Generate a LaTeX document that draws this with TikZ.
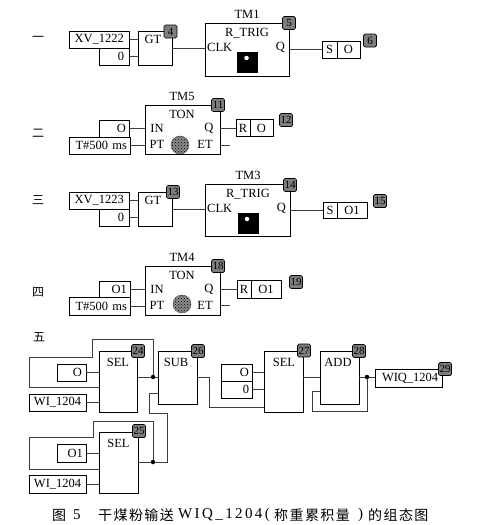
\documentclass[tikz,border=0pt]{standalone}
\usepackage{fontspec}
\setmainfont{Liberation Serif}
\newfontfamily\cjk{Noto Sans CJK SC}
\newfontfamily\cjkcap[LetterSpace=10]{Noto Sans CJK SC}
\newfontfamily\latincap[LetterSpace=16]{Liberation Serif}
\usetikzlibrary{positioning,patterns}
\definecolor{tagfill}{RGB}{125,125,125}
\definecolor{wiregray}{RGB}{60,60,60}
\tikzset{
  blockbox/.style={draw=black,line width=1pt,fill=white,inner sep=0pt,outer sep=0pt,anchor=north west},
  valbox/.style={draw=black,line width=1pt,fill=white,inner xsep=3pt,inner ysep=0pt,outer sep=0pt,
    align=right,minimum height=17pt,anchor=north east,font=\fontsize{12.5}{13}\selectfont},
  cellbox/.style={draw=black,line width=1pt,fill=white,inner sep=0pt,outer sep=0pt,
    minimum height=17pt,anchor=north west,font=\fontsize{12.5}{13}\selectfont},
  wire/.style={wiregray,line width=1pt},
  blocklabel/.style={inner sep=0pt,font=\fontsize{12.5}{13}\selectfont},
  tagbox/.style={draw=black,line width=0.7pt,fill=tagfill,rounded corners=1.5pt,inner xsep=1pt,inner ysep=0pt,
    minimum width=13pt,minimum height=13pt,font=\fontsize{11}{11}\selectfont},
  rowlabel/.style={inner sep=0pt,font=\cjk\fontsize{12}{13}\selectfont},
  bulbbox/.style={fill=black,inner sep=0pt,minimum width=21pt,minimum height=21pt,anchor=north west},
  bulbdot/.style={circle,fill=white,inner sep=0pt,minimum size=4.5pt},
  tondisc/.style={circle,draw=black!70,preaction={fill=black!45},pattern=crosshatch dots,pattern color=black,inner sep=0pt,minimum size=18pt},
  jointdot/.style={circle,fill=black,inner sep=0pt,minimum size=4.5pt},
  capcjk/.style={inner sep=0pt,anchor=west,font=\cjkcap\fontsize{14}{15}\selectfont},
  caplatin/.style={inner sep=0pt,anchor=west,font=\latincap\fontsize{15}{15}\selectfont},
}
\begin{document}
\begin{tikzpicture}[x=1pt,y=-1pt]
  \useasboundingbox (0,0) rectangle (478,525);

  % ── Row one ──
  \node[rowlabel] (rowa) at (38,39) {一};
  \node[valbox,inner xsep=5pt,text width=50pt] (xva) at (129,31) {XV\_1222};
  \node[valbox,inner xsep=5pt,text width=20pt] (zeroa) at (129,48) {0};
  \node[blockbox,minimum width=34pt,minimum height=34pt] (gta) at (138,31) {};
  \node[blocklabel] (gtatext) at (153,39) {GT};
  \node[tagbox] (taga) at (170.5,31.5) {4};
  \node[blocklabel] (tma) at (247,14) {TM1};
  \node[blockbox,minimum width=84pt,minimum height=53pt] (trga) at (205,23) {};
  \node[blocklabel] (trgatext) at (247,33) {R\_TRIG};
  \node[blocklabel,anchor=west] (clka) at (207,47) {CLK};
  \node[blocklabel,anchor=east] (qa) at (285,47) {Q};
  \node[bulbbox] (bulba) at (237,52) {};
  \node[bulbdot] (dota) at (246.5,58) {};
  \node[tagbox] (tagb) at (289,23) {5};
  \node[cellbox,minimum width=15pt] (sa) at (322,41) {S};
  \node[cellbox,minimum width=23pt] (oa) at (337,41) {O};
  \node[tagbox] (tagc) at (370,40.5) {6};
  \draw[wire] (xva.east) -- (xva.east -| gta.west);
  \draw[wire] (zeroa.east) -- (zeroa.east -| gta.west);
  \draw[wire] (gta.east) -- (gta.east -| trga.west);
  \draw[wire] (sa.west -| trga.east) -- (sa.west);

  % ── Row two ──
  \node[rowlabel] (rowb) at (38,133) {二};
  \node[blocklabel] (tmb) at (182,96) {TM5};
  \node[blockbox,minimum width=75pt,minimum height=49pt] (tonb) at (145,105) {};
  \node[blocklabel] (tonbtext) at (182,114) {TON};
  \node[blocklabel] (inb) at (157,128) {IN};
  \node[blocklabel] (ptb) at (157,144.5) {PT};
  \node[blocklabel] (qb) at (209,128) {Q};
  \node[blocklabel] (etb) at (205,144.5) {ET};
  \node[tondisc] (discb) at (180,145) {};
  \node[tagbox] (tagd) at (218,105) {11};
  \node[valbox,text width=24pt] (ob) at (129,120) {O};
  \node[valbox,text width=55pt] (tb) at (130,137) {T\#500 ms};
  \node[cellbox,minimum width=14pt] (rb) at (236,119.5) {R};
  \node[cellbox,minimum width=23pt] (orb) at (250,119.5) {O};
  \node[tagbox] (tage) at (286,120) {12};
  \coordinate (etbend) at (230,145);
  \draw[wire] (ob.east) -- (ob.east -| tonb.west);
  \draw[wire] (tb.east) -- (tb.east -| tonb.west);
  \draw[wire] (rb.west -| tonb.east) -- (rb.west);
  \draw[wire] (etbend -| tonb.east) -- (etbend);

  % ── Row three ──
  \node[rowlabel] (rowc) at (38,200) {三};
  \node[valbox,inner xsep=5pt,text width=50pt] (xvc) at (129,192) {XV\_1223};
  \node[valbox,inner xsep=5pt,text width=20pt] (zeroc) at (129,209) {0};
  \node[blockbox,minimum width=34pt,minimum height=34pt] (gtc) at (138,192) {};
  \node[blocklabel] (gtctext) at (153,200) {GT};
  \node[tagbox] (tagf) at (173,192) {13};
  \node[blocklabel] (tmc) at (248,175) {TM3};
  \node[blockbox,minimum width=85pt,minimum height=52pt] (trgc) at (205,184) {};
  \node[blocklabel] (trgctext) at (248,194) {R\_TRIG};
  \node[blocklabel,anchor=west] (clkc) at (207,208) {CLK};
  \node[blocklabel,anchor=east] (qc) at (286,208) {Q};
  \node[bulbbox] (bulbc) at (238,213) {};
  \node[bulbdot] (dotc) at (247,219) {};
  \node[tagbox] (tagg) at (290,185) {14};
  \node[cellbox,minimum width=14pt,minimum height=16pt] (sc) at (323,202) {S};
  \node[cellbox,minimum width=30pt,minimum height=16pt] (oc) at (337,202) {O1};
  \node[tagbox] (tagh) at (380,201) {15};
  \draw[wire] (xvc.east) -- (xvc.east -| gtc.west);
  \draw[wire] (zeroc.east) -- (zeroc.east -| gtc.west);
  \draw[wire] (gtc.east) -- (gtc.east -| trgc.west);
  \draw[wire] (sc.west -| trgc.east) -- (sc.west);

  % ── Row four ──
  \node[rowlabel] (rowd) at (38,292) {四};
  \node[blocklabel] (tmd) at (182,257) {TM4};
  \node[blockbox,minimum width=75pt,minimum height=49pt] (tond) at (145,266) {};
  \node[blocklabel] (tondtext) at (182,275) {TON};
  \node[blocklabel] (ind) at (157,289) {IN};
  \node[blocklabel] (ptd) at (157,305) {PT};
  \node[blocklabel] (qd) at (209,289) {Q};
  \node[blocklabel] (etd) at (205,305) {ET};
  \node[tondisc] (discd) at (182,304) {};
  \node[tagbox] (tagi) at (218,266) {18};
  \node[valbox,text width=25pt,minimum height=16pt] (od) at (130,281) {O1};
  \node[valbox,text width=55pt,minimum height=18pt] (td) at (130,297) {T\#500 ms};
  \node[cellbox,minimum width=14pt,minimum height=18pt] (rd) at (237,280) {R};
  \node[cellbox,minimum width=30pt,minimum height=18pt] (ord) at (251,280) {O1};
  \node[tagbox] (tagj) at (296,282) {19};
  \coordinate (etdbend) at (230,305);
  \draw[wire] (od.east) -- (od.east -| tond.west);
  \draw[wire] (td.east) -- (td.east -| tond.west);
  \draw[wire] (rd.west -| tond.east) -- (rd.west);
  \draw[wire] (etdbend -| tond.east) -- (etdbend);

  % ── Row five: left half ──
  \node[rowlabel] (rowe) at (39,337) {五};
  \node[blockbox,minimum width=38pt,minimum height=61pt] (sela) at (99,351) {};
  \node[blocklabel] (selatext) at (118,362) {SEL};
  \node[tagbox] (tagk) at (138,351) {24};
  \node[valbox,inner xsep=4pt,text width=21pt] (oe) at (86,364) {O};
  \node[valbox,inner xsep=5pt,text width=47pt] (wia) at (86,394) {WI\_1204};
  \node[blockbox,minimum width=39pt,minimum height=61pt] (selb) at (99,432) {};
  \node[blocklabel] (selbtext) at (118.5,443) {SEL};
  \node[tagbox] (tagl) at (139,431) {25};
  \node[valbox,text width=23pt,minimum height=18pt] (of) at (86,444) {O1};
  \node[valbox,inner xsep=5pt,text width=47pt,minimum height=18pt] (wib) at (86,475) {WI\_1204};
  \node[blockbox,minimum width=39pt,minimum height=53pt] (sub) at (158,351) {};
  \node[blocklabel] (subtext) at (176,362) {SUB};
  \node[tagbox] (tagm) at (198,351) {26};
  \node[jointdot] (jointa) at (153,377) {};
  \node[jointdot] (jointb) at (153,462) {};
  \coordinate (fba) at (99,387);
  \coordinate (fbb) at (99,469);
  \coordinate (subin) at (158,393);
  \draw[wire] (oe.east) -- (oe.east -| sela.west);
  \draw[wire] (wia.east) -- (wia.east -| sela.west);
  \draw[wire] (of.east) -- (of.east -| selb.west);
  \draw[wire] (wib.east) -- (wib.east -| selb.west);
  \draw[wire] (jointa -| sela.east) -- (jointa) -- (jointa -| sub.west);
  \draw[wire] (jointa) -- (153,339) -- (92.5,339) -- (92.5,357) -- (29,357) -- (29,387) -- (fba);
  \draw[wire] (jointb -| selb.east) -- (jointb) -- (167,462) -- (167,413) -- (149,413) -- (149,393) -- (subin);
  \draw[wire] (jointb) -- (153,421) -- (93,421) -- (93,437) -- (29,437) -- (29,469) -- (fbb);

  % ── Row five: right half ──
  \node[blockbox,minimum width=39pt,minimum height=61pt] (selc) at (264,351) {};
  \node[blocklabel] (selctext) at (284,362) {SEL};
  \node[tagbox] (tagn) at (304,350.5) {27};
  \node[valbox,text width=25pt] (og) at (252,364) {O};
  \node[valbox,text width=25pt] (zerog) at (252,381) {0};
  \node[blockbox,minimum width=39pt,minimum height=53pt] (add) at (320,351) {};
  \node[blocklabel] (addtext) at (338,362) {ADD};
  \node[tagbox] (tago) at (359,351) {28};
  \node[valbox,inner xsep=7pt,text width=53pt,minimum height=18pt] (wiq) at (442,369) {WIQ\_1204};
  \node[tagbox] (tagp) at (445,369) {29};
  \node[jointdot] (jointc) at (367,377) {};
  \coordinate (selcin) at (264,407);
  \coordinate (addin) at (320,391);
  \draw[wire] (og.east) -- (og.east -| selc.west);
  \draw[wire] (zerog.east) -- (zerog.east -| selc.west);
  \draw[wire] (jointa -| sub.east) -- (209,377) -- (209,407) -- (selcin);
  \draw[wire] (jointc -| selc.east) -- (jointc -| add.west);
  \draw[wire] (jointc -| add.east) -- (jointc) -- (jointc -| wiq.west);
  \draw[wire] (jointc) -- (367,411) -- (312,411) -- (312,391) -- (addin);

  % ── Caption ──
  \node[capcjk] (capa) at (52,515) {图};
  \node[caplatin] (capb) at (73,515) {5};
  \node[capcjk] (capc) at (98,515) {干煤粉输送};
  \node[caplatin] (capd) at (178,515) {WIQ\_1204(};
  \node[capcjk] (cape) at (274,515) {称重累积量};
  \node[caplatin] (capf) at (358,515) {)};
  \node[capcjk] (capg) at (368,515) {的组态图};
\end{tikzpicture}
\end{document}
